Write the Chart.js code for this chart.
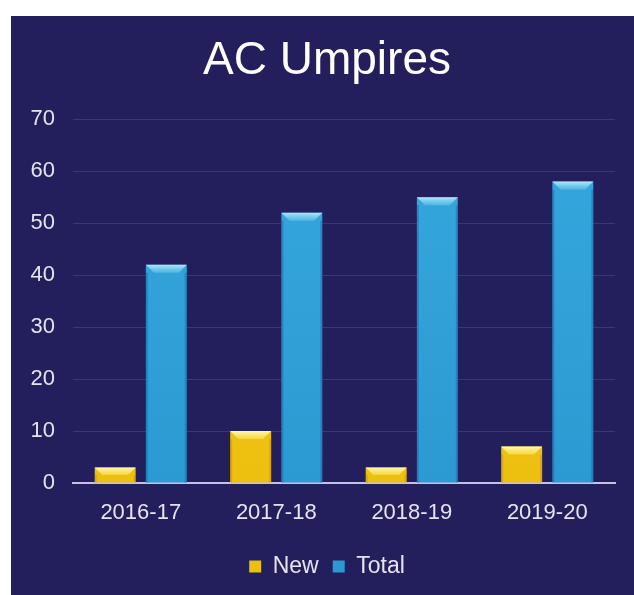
<!DOCTYPE html>
<html>
<head>
<meta charset="utf-8">
<script src="https://cdn.jsdelivr.net/npm/chart.js@4"></script>
<style>
  html, body { margin:0; padding:0; background:#fff; }
  #wrap { position:absolute; left:11px; top:16px; width:623px; height:579px; background:#231e5c; }
</style>
</head>
<body>
<div id="wrap"><canvas id="chart_umpires" width="623" height="579"></canvas></div>
<script>
const seasons = ['2016-17', '2017-18', '2018-19', '2019-20'];
const newUmpires = [3, 10, 3, 7];
const totalUmpires = [42, 52, 55, 58];
const yTicks = [0, 10, 20, 30, 40, 50, 60, 70];

const FONT = "'Liberation Sans', Arial, sans-serif";
const TEXT = '#e4e4ef';

// vertical gradient over the plot height
function barFill(top, bottom) {
  return function(ctx) {
    const area = ctx.chart.chartArea;
    if (!area) return top;
    const g = ctx.chart.ctx.createLinearGradient(0, area.top, 0, area.bottom);
    g.addColorStop(0, top);
    g.addColorStop(1, bottom);
    return g;
  };
}

// little bevel on the top of every bar
const bevel = {
  id: 'bevel',
  afterDatasetsDraw(chart) {
    const c = chart.ctx;
    const tops = [['rgba(255,252,190,0.95)', 'rgba(255,230,90,0.6)'], ['rgba(190,240,250,0.9)', 'rgba(110,200,240,0.5)']];
    const sides = ['rgba(170,120,0,0.3)', 'rgba(10,70,130,0.3)'];
    chart.data.datasets.forEach((ds, i) => {
      chart.getDatasetMeta(i).data.forEach(bar => {
        const p = bar.getProps(['x', 'y', 'base', 'width'], true);
        const l = p.x - p.width / 2, r = p.x + p.width / 2;
        const h = Math.min(8, (p.base - p.y) / 2);
        c.save();
        const g = c.createLinearGradient(0, p.y, 0, p.y + h);
        g.addColorStop(0, tops[i][0]);
        g.addColorStop(1, tops[i][1]);
        c.fillStyle = g;
        c.beginPath();
        c.moveTo(l, p.y); c.lineTo(r, p.y);
        c.lineTo(r - h, p.y + h); c.lineTo(l + h, p.y + h);
        c.closePath(); c.fill();
        c.fillStyle = sides[i];
        c.fillRect(l, p.y + h, 2, p.base - p.y - h);
        c.fillRect(r - 2, p.y + h, 2, p.base - p.y - h);
        c.restore();
      });
    });
  }
};

new Chart(document.getElementById('chart_umpires'), {
  type: 'bar',
  data: {
    labels: seasons,
    datasets: [
      {
        label: 'New',
        data: newUmpires,
        backgroundColor: barFill('#f7cf1c', '#edbf10'),
        borderWidth: 0,
      },
      {
        label: 'Total',
        data: totalUmpires,
        backgroundColor: barFill('#36a8de', '#2c9ad2'),
        borderWidth: 0,
      }
    ]
  },
  plugins: [bevel],
  options: {
    responsive: false,
    animation: false,
    categoryPercentage: 0.755,
    barPercentage: 0.8,
    layout: {
      padding: {left:28, right:19, top:0, bottom:7}
    },
    plugins: {
      title: {
        display: true,
        text: 'AC Umpires',
        color: '#ffffff',
        font: {family: FONT, size: 46, weight: 'normal'},
        padding: {top: 18, bottom: 30}
      },
      legend: {
        position: 'bottom',
        labels: {
          color: TEXT,
          font: {family: FONT, size: 23},
          boxWidth: 12,
          boxHeight: 12,
          padding: 14
        }
      },
      tooltip: {enabled: false}
    },
    scales: {
      x: {
        grid: {display: false, drawTicks: false},
        border: {display: true, color: '#c4c2e8', width: 2},
        ticks: {color: TEXT, font: {family: FONT, size: 22}, padding: 17},
        afterFit(s) { s.height = 58; }
      },
      y: {
        min: 0,
        max: 70,
        afterBuildTicks(s) { s.ticks = yTicks.map(v => ({value: v})); },
        grid: {color: 'rgba(120,120,200,0.28)', lineWidth: 1, drawTicks: false},
        border: {display: false},
        // mirrored so the labels are not clipped to the narrow axis box
        ticks: {color: TEXT, font: {family: FONT, size: 22}, mirror: true, crossAlign: 'far', padding: -42.5},
        afterFit(s) { s.width = 34; }
      }
    }
  }
});
</script>
</body>
</html>
